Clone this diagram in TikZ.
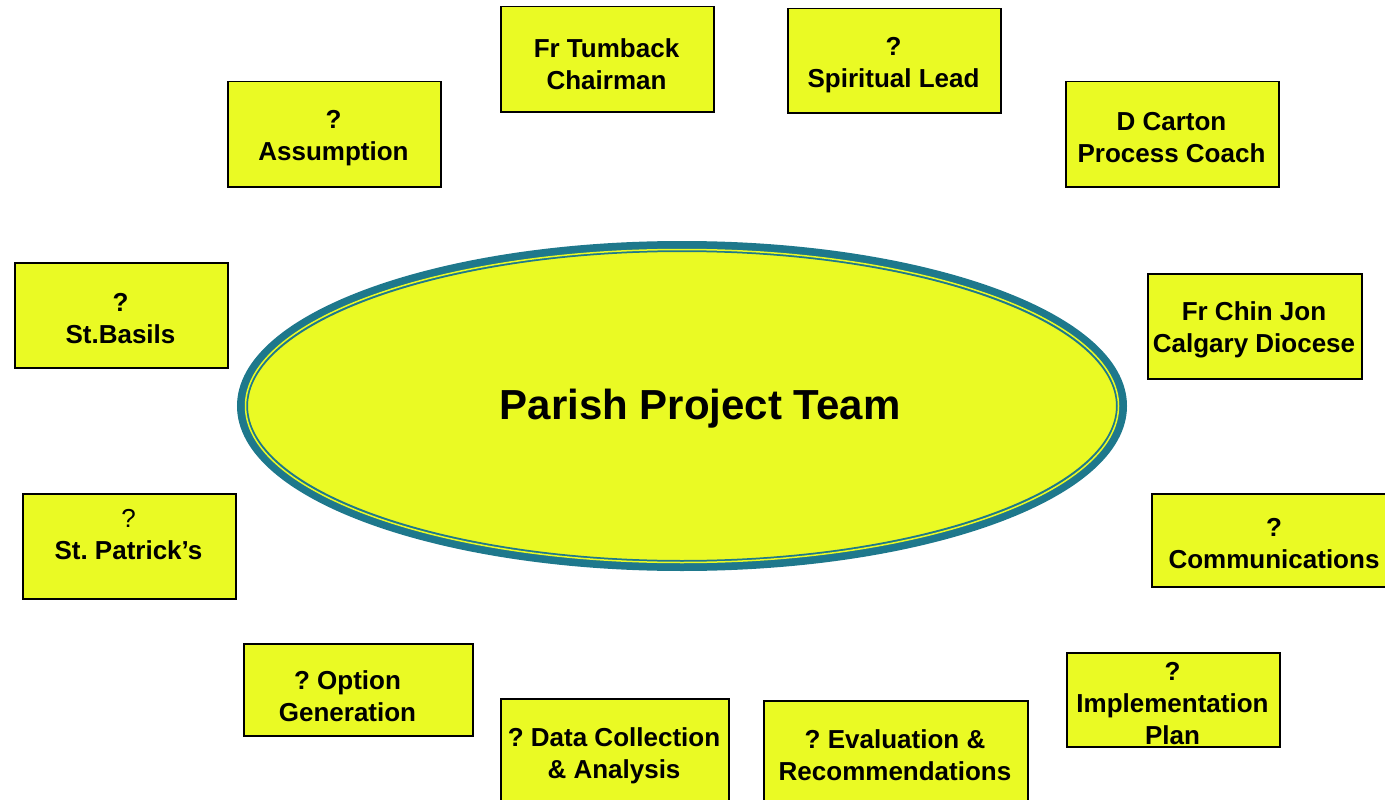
\documentclass[tikz,border=0pt]{standalone}
\usepackage{fontspec}
\setmainfont{Liberation Sans}
\usetikzlibrary{shapes.geometric}
\definecolor{boxyellow}{RGB}{234,250,36}
\definecolor{rimteal}{RGB}{30,120,140}
\frenchspacing
\tikzset{
  rolebox/.style={draw=black, line width=1.5pt, fill=boxyellow, rectangle, align=center,
    font=\fontsize{26}{32}\selectfont\bfseries, inner sep=0pt, anchor=north west},
  roletext/.style={font=\fontsize{26}{32}\selectfont\bfseries, align=center, inner sep=0pt, yshift=-3pt},
}
\newcommand{\rbox}[7]{% name, x1, y1, x2, y2, text position, text
  \node[rolebox, minimum width={#4-#2}, minimum height={#5-#3}] (#1) at (#2,#3) {};
  \node[roletext] (#1-t) at (#6) {#7};
}
\begin{document}
\begin{tikzpicture}[x=1pt,y=-1pt]
\useasboundingbox (0,0) rectangle (1385,800);
\clip (0,0) rectangle (1385,800);
% central ellipse
\node[ellipse, draw=rimteal, line width=11pt, fill=boxyellow, minimum width=879pt, minimum height=319pt, inner sep=0pt] (team) at (682,406) {};
\draw[boxyellow, line width=1.5pt] (team.center) ellipse [x radius=436.5pt, y radius=156.5pt];
\node[font=\fontsize{42}{50}\selectfont\bfseries, inner sep=0pt] (title) at (700,409) {Parish Project Team};
% boxes
\rbox{chair}{500}{6}{713}{111}{606.5,61}{Fr Tumback\\Chairman}
\rbox{spirit}{787}{8}{1000}{112}{893.5,62}{?\\Spiritual Lead}
\rbox{assump}{227}{81}{440}{186}{333.5,135}{?\\Assumption}
\rbox{carton}{1065}{81}{1278}{186}{1171.5,135}{D Carton\\Process Coach}
\rbox{basils}{14}{262}{227}{367}{120.5,315.5}{?\\St.Basils}
\rbox{chin}{1147}{273}{1361}{378}{1254,327}{Fr Chin Jon\\Calgary Diocese}
\rbox{patrick}{22}{493}{235}{598}{128.5,532}{{\mdseries ?}\\St. Patrick’s}
\rbox{comm}{1151}{493}{1397}{586}{1274,541}{?\\Communications}
\rbox{option}{243}{643}{472}{735}{347.5,693}{? Option\\Generation}
\rbox{data}{500}{698}{728}{805}{614,753}{? Data Collection\\\& Analysis}
\rbox{eval}{763}{700}{1027}{805}{895,752.5}{? Evaluation \&\\Recommendations}
\rbox{impl}{1066}{652}{1279}{746}{1172.5,700.5}{?\\Implementation\\Plan}
\end{tikzpicture}
\end{document}
